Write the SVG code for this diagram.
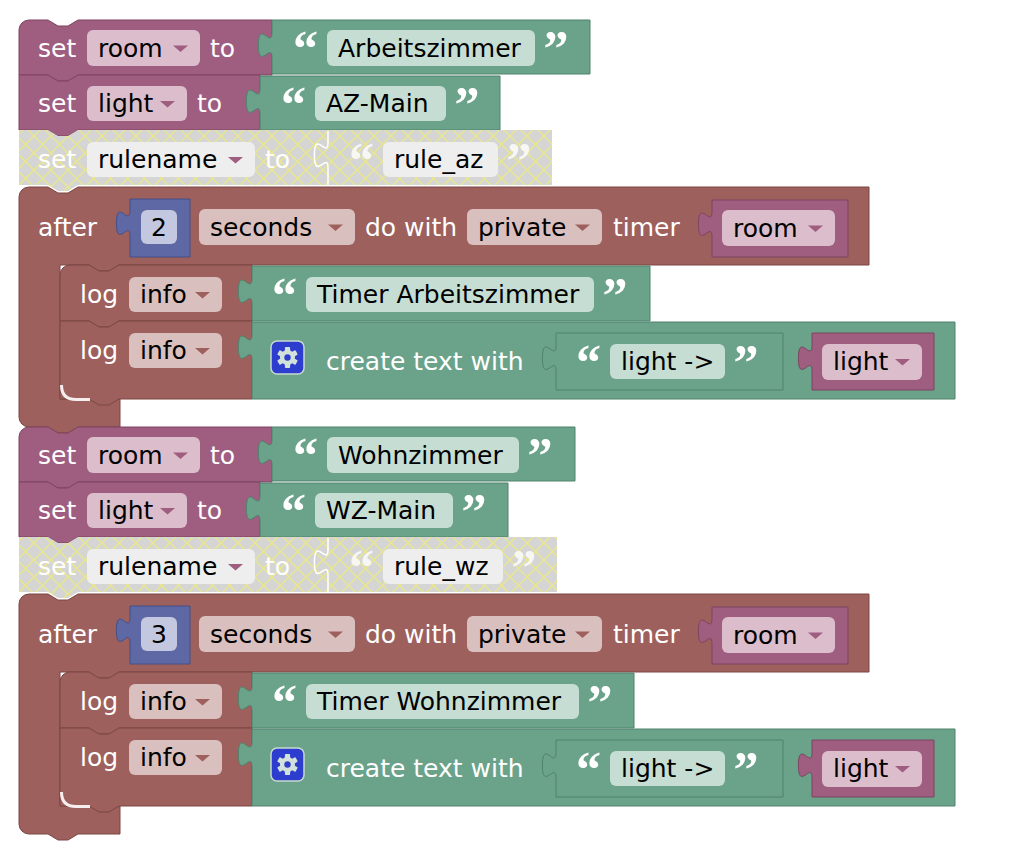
<svg xmlns="http://www.w3.org/2000/svg" xmlns:xlink="http://www.w3.org/1999/xlink" width="1014" height="862" viewBox="0 0 1014 862">
<style>
.t{font-family:"DejaVu Sans",sans-serif;font-size:25px;fill:#fff}
.k{fill:#000}
.q{font-family:"Liberation Serif",serif;font-weight:bold;font-size:50px;fill:#fff;text-anchor:middle}
.qd{opacity:.8}
.pu{fill:#9f5d80;stroke:#7c4562;stroke-width:1}
.gr{fill:#6aa38a;stroke:#4f826c;stroke-width:1}
.rd{fill:#9d605c;stroke:#7b4643;stroke-width:1}
.bl{fill:#5d68a5;stroke:#454f88;stroke-width:1}
.dis{fill:url(#dis)}
.pp{fill:#dcbdcc}
.gp{fill:#c5ddd2}
.rp{fill:#d9c0be}
.bp{fill:#c3c7df}
.dp{fill:#eeeeee}
.ap{fill:#9f5d80}
.ar{fill:#9d605c}
.wl{fill:none;stroke:#fff;stroke-width:1.5}
.hl{fill:none;stroke:#f6eeee;stroke-width:3}
</style>
<defs>
<pattern id="dis" patternUnits="userSpaceOnUse" width="17" height="17">
<rect width="17" height="17" fill="#d5d5d5"/>
<path d="M0 0L17 17M17 0L0 17" stroke="#e8e68e" stroke-width="1.5"/>
</pattern>
<g id="cog">
<rect x="-16.5" y="-16.5" width="33" height="33" rx="6" fill="#2d3ecf" stroke="#c6dad0" stroke-width="1.5"/>
<g fill="#d2e2da">
<circle r="7.5"/>
<rect x="-2.6" y="-10.5" width="5.2" height="21" rx="1"/>
<rect x="-2.6" y="-10.5" width="5.2" height="21" rx="1" transform="rotate(60)"/>
<rect x="-2.6" y="-10.5" width="5.2" height="21" rx="1" transform="rotate(120)"/>
</g>
<circle r="3.2" fill="#2d3ecf"/>
</g>
</defs>
<rect width="1014" height="862" fill="#fff"/>

<!-- ===== group 1 ===== -->
<g id="stack-1">
<g id="set-room-1">
<path class="pu" d="M19,30 A10,10 0 0 1 29,20 H48 l10,6 h10 l10,-6 H272 V75 H78 l-10,6 h-10 l-10,-6 H19 Z"/>
<text class="t" x="38" y="56.5">set</text>
<rect class="pp" x="87" y="30" width="113" height="36" rx="6"/>
<text class="t k" x="98" y="56.5">room</text>
<path class="ap" d="M173,45.5 h15 l-7.5,6.5 z"/>
<text class="t" x="210" y="56.5">to</text>
</g>
<g id="text-arbeitszimmer">
<path class="gr" d="M272,20 H590 V74 H272 V58 c0,-17 -13.6,13.6 -13.6,-12.75 s13.6,4.25 13.6,-12.75 Z"/>
<text class="q" x="305.5" y="65">“</text>
<rect class="gp" x="327" y="30" width="208" height="36" rx="6"/>
<text class="t k" x="338" y="56.5">Arbeitszimmer</text>
<text class="q" x="556" y="65">”</text>
</g>

<g id="set-light-1">
<path class="pu" d="M19,75 H48 l10,6 h10 l10,-6 H260 V130 H78 l-10,6 h-10 l-10,-6 H19 Z"/>
<text class="t" x="38" y="112">set</text>
<rect class="pp" x="87" y="86" width="100" height="35" rx="6"/>
<text class="t k" x="98" y="112">light</text>
<path class="ap" d="M160,101 h15 l-7.5,6.5 z"/>
<text class="t" x="197" y="112">to</text>
</g>
<g id="text-az-main">
<path class="gr" d="M260,76 H500 V130 H260 V114 c0,-17 -13.6,13.6 -13.6,-12.75 s13.6,4.25 13.6,-12.75 Z"/>
<text class="q" x="293.5" y="120.5">“</text>
<rect class="gp" x="315" y="86" width="131" height="35" rx="6"/>
<text class="t k" x="326" y="112">AZ-Main</text>
<text class="q" x="467" y="120.5">”</text>
</g>

<g id="set-rulename-1">
<path class="dis" d="M19,130 H48 l10,6 h10 l10,-6 H552 V185 H78 l-10,6 h-10 l-10,-6 H19 Z"/>
<text class="t" x="38" y="168">set</text>
<rect class="dp" x="87" y="142" width="168" height="35" rx="6"/>
<text class="t k" x="98" y="168">rulename</text>
<path class="ap" d="M228,157 h15 l-7.5,6.5 z"/>
<text class="t" x="265" y="168">to</text>
</g>
<g id="text-rule-az">
<path class="wl" d="M328,185 V168 c0,-17 -13.6,13.6 -13.6,-12.75 s13.6,4.25 13.6,-12.75 V131"/>
<text class="q qd" x="361.5" y="177">“</text>
<rect class="dp" x="383" y="142" width="115" height="35" rx="6"/>
<text class="t k" x="394" y="168">rule_az</text>
<text class="q qd" x="519" y="177">”</text>
</g>

<g id="after-1">
<path class="rd" d="M19,197 A10,10 0 0 1 29,187 H48 l10,6 h10 l10,-6 H869 V265 H119 l-10,6 h-10 l-10,-6 H60 V399 H120 V427 H78 l-10,6 h-10 l-10,-6 H29 A10,10 0 0 1 19,417 Z"/>
<text class="t" x="38" y="235.5">after</text>
<path class="bl" d="M130,199 H190 V257 H130 V236 c0,-17 -13.6,13.6 -13.6,-12.75 s13.6,4.25 13.6,-12.75 Z"/>
<rect class="bp" x="141" y="210" width="36" height="34" rx="6"/>
<text class="t k" x="159" y="235.5" text-anchor="middle">2</text>
<rect class="rp" x="199" y="209" width="156" height="36" rx="6"/>
<text class="t k" x="210" y="235.5">seconds</text>
<path class="ar" d="M328,224.5 h15 l-7.5,6.5 z"/>
<text class="t" x="365" y="235.5">do with</text>
<rect class="rp" x="467" y="209" width="135" height="36" rx="6"/>
<text class="t k" x="478" y="235.5">private</text>
<path class="ar" d="M575,224.5 h15 l-7.5,6.5 z"/>
<text class="t" x="613" y="235.5">timer</text>
</g>
<g id="var-room-1">
<path class="pu" d="M712,200 H848 V257 H712 V237 c0,-17 -13.6,13.6 -13.6,-12.75 s13.6,4.25 13.6,-12.75 Z"/>
<rect class="pp" x="722" y="210" width="113" height="36" rx="6"/>
<text class="t k" x="733" y="236.5">room</text>
<path class="ap" d="M808,225.5 h15 l-7.5,6.5 z"/>
</g>

<g id="log-1a">
<path class="rd" d="M60,275 A10,10 0 0 1 70,265 H89 l10,6 h10 l10,-6 H252 V321 H119 l-10,6 h-10 l-10,-6 H60 Z"/>
<text class="t" x="80" y="303">log</text>
<rect class="rp" x="129" y="277" width="93" height="35" rx="6"/>
<text class="t k" x="140" y="303">info</text>
<path class="ar" d="M195,292 h15 l-7.5,6.5 z"/>
</g>
<g id="text-timer-az">
<path class="gr" d="M252,266 H650 V321 H252 V304 c0,-17 -13.6,13.6 -13.6,-12.75 s13.6,4.25 13.6,-12.75 Z"/>
<text class="q" x="284.5" y="312">“</text>
<rect class="gp" x="306" y="277" width="288" height="35" rx="6"/>
<text class="t k" x="317" y="303">Timer Arbeitszimmer</text>
<text class="q" x="615" y="312">”</text>
</g>

<g id="log-1b">
<path class="rd" d="M60,321 H89 l10,6 h10 l10,-6 H252 V399 H119 l-10,6 h-10 l-10,-6 H60 Z"/>
<text class="t" x="80" y="358.5">log</text>
<rect class="rp" x="129" y="333" width="93" height="35" rx="6"/>
<text class="t k" x="140" y="358.5">info</text>
<path class="ar" d="M195,348 h15 l-7.5,6.5 z"/>
<path class="hl" d="M61.5,385 Q61.5,399.5 76,399.5 H90"/>
</g>
<g id="create-text-1">
<path class="gr" d="M252,322 H955 V399 H252 V360 c0,-17 -13.6,13.6 -13.6,-12.75 s13.6,4.25 13.6,-12.75 Z"/>
<use xlink:href="#cog" href="#cog" x="287.5" y="357.5"/>
<text class="t" x="326" y="370">create text with</text>
</g>
<g id="text-light-1">
<path class="gr" d="M556,333 H783 V390 H556 V371 c0,-17 -13.6,13.6 -13.6,-12.75 s13.6,4.25 13.6,-12.75 Z"/>
<text class="q" x="588.5" y="379">“</text>
<rect class="gp" x="610" y="344" width="115" height="35" rx="6"/>
<text class="t k" x="621" y="370">light -&gt;</text>
<text class="q" x="746" y="379">”</text>
</g>
<g id="var-light-1">
<path class="pu" d="M812,333 H934 V390 H812 V371 c0,-17 -13.6,13.6 -13.6,-12.75 s13.6,4.25 13.6,-12.75 Z"/>
<rect class="pp" x="822" y="344" width="100" height="36" rx="6"/>
<text class="t k" x="833" y="370">light</text>
<path class="ap" d="M895,359 h15 l-7.5,6.5 z"/>
</g>
</g>

<!-- ===== group 2 ===== -->
<g id="stack-2" transform="translate(0,407)">
<g id="set-room-2">
<path class="pu" d="M19,30 A10,10 0 0 1 29,20 H48 l10,6 h10 l10,-6 H272 V75 H78 l-10,6 h-10 l-10,-6 H19 Z"/>
<text class="t" x="38" y="56.5">set</text>
<rect class="pp" x="87" y="30" width="113" height="36" rx="6"/>
<text class="t k" x="98" y="56.5">room</text>
<path class="ap" d="M173,45.5 h15 l-7.5,6.5 z"/>
<text class="t" x="210" y="56.5">to</text>
</g>
<g id="text-wohnzimmer">
<path class="gr" d="M272,20 H575 V74 H272 V58 c0,-17 -13.6,13.6 -13.6,-12.75 s13.6,4.25 13.6,-12.75 Z"/>
<text class="q" x="305.5" y="65">“</text>
<rect class="gp" x="327" y="30" width="192" height="36" rx="6"/>
<text class="t k" x="338" y="56.5">Wohnzimmer</text>
<text class="q" x="540" y="65">”</text>
</g>

<g id="set-light-2">
<path class="pu" d="M19,75 H48 l10,6 h10 l10,-6 H260 V130 H78 l-10,6 h-10 l-10,-6 H19 Z"/>
<text class="t" x="38" y="112">set</text>
<rect class="pp" x="87" y="86" width="100" height="35" rx="6"/>
<text class="t k" x="98" y="112">light</text>
<path class="ap" d="M160,101 h15 l-7.5,6.5 z"/>
<text class="t" x="197" y="112">to</text>
</g>
<g id="text-wz-main">
<path class="gr" d="M260,76 H508 V130 H260 V114 c0,-17 -13.6,13.6 -13.6,-12.75 s13.6,4.25 13.6,-12.75 Z"/>
<text class="q" x="293.5" y="120.5">“</text>
<rect class="gp" x="315" y="86" width="138" height="35" rx="6"/>
<text class="t k" x="326" y="112">WZ-Main</text>
<text class="q" x="474" y="120.5">”</text>
</g>

<g id="set-rulename-2">
<path class="dis" d="M19,130 H48 l10,6 h10 l10,-6 H557 V185 H78 l-10,6 h-10 l-10,-6 H19 Z"/>
<text class="t" x="38" y="168">set</text>
<rect class="dp" x="87" y="142" width="168" height="35" rx="6"/>
<text class="t k" x="98" y="168">rulename</text>
<path class="ap" d="M228,157 h15 l-7.5,6.5 z"/>
<text class="t" x="265" y="168">to</text>
</g>
<g id="text-rule-wz">
<path class="wl" d="M328,185 V168 c0,-17 -13.6,13.6 -13.6,-12.75 s13.6,4.25 13.6,-12.75 V131"/>
<text class="q qd" x="361.5" y="177">“</text>
<rect class="dp" x="383" y="142" width="120" height="35" rx="6"/>
<text class="t k" x="394" y="168">rule_wz</text>
<text class="q qd" x="524" y="177">”</text>
</g>

<g id="after-2">
<path class="rd" d="M19,197 A10,10 0 0 1 29,187 H48 l10,6 h10 l10,-6 H869 V265 H119 l-10,6 h-10 l-10,-6 H60 V399 H120 V427 H78 l-10,6 h-10 l-10,-6 H29 A10,10 0 0 1 19,417 Z"/>
<text class="t" x="38" y="235.5">after</text>
<path class="bl" d="M130,199 H190 V257 H130 V236 c0,-17 -13.6,13.6 -13.6,-12.75 s13.6,4.25 13.6,-12.75 Z"/>
<rect class="bp" x="141" y="210" width="36" height="34" rx="6"/>
<text class="t k" x="159" y="235.5" text-anchor="middle">3</text>
<rect class="rp" x="199" y="209" width="156" height="36" rx="6"/>
<text class="t k" x="210" y="235.5">seconds</text>
<path class="ar" d="M328,224.5 h15 l-7.5,6.5 z"/>
<text class="t" x="365" y="235.5">do with</text>
<rect class="rp" x="467" y="209" width="135" height="36" rx="6"/>
<text class="t k" x="478" y="235.5">private</text>
<path class="ar" d="M575,224.5 h15 l-7.5,6.5 z"/>
<text class="t" x="613" y="235.5">timer</text>
</g>
<g id="var-room-2">
<path class="pu" d="M712,200 H848 V257 H712 V237 c0,-17 -13.6,13.6 -13.6,-12.75 s13.6,4.25 13.6,-12.75 Z"/>
<rect class="pp" x="722" y="210" width="113" height="36" rx="6"/>
<text class="t k" x="733" y="236.5">room</text>
<path class="ap" d="M808,225.5 h15 l-7.5,6.5 z"/>
</g>

<g id="log-2a">
<path class="rd" d="M60,275 A10,10 0 0 1 70,265 H89 l10,6 h10 l10,-6 H252 V321 H119 l-10,6 h-10 l-10,-6 H60 Z"/>
<text class="t" x="80" y="303">log</text>
<rect class="rp" x="129" y="277" width="93" height="35" rx="6"/>
<text class="t k" x="140" y="303">info</text>
<path class="ar" d="M195,292 h15 l-7.5,6.5 z"/>
</g>
<g id="text-timer-wz">
<path class="gr" d="M252,266 H634 V321 H252 V304 c0,-17 -13.6,13.6 -13.6,-12.75 s13.6,4.25 13.6,-12.75 Z"/>
<text class="q" x="284.5" y="312">“</text>
<rect class="gp" x="306" y="277" width="273" height="35" rx="6"/>
<text class="t k" x="317" y="303">Timer Wohnzimmer</text>
<text class="q" x="600" y="312">”</text>
</g>

<g id="log-2b">
<path class="rd" d="M60,321 H89 l10,6 h10 l10,-6 H252 V399 H119 l-10,6 h-10 l-10,-6 H60 Z"/>
<text class="t" x="80" y="358.5">log</text>
<rect class="rp" x="129" y="333" width="93" height="35" rx="6"/>
<text class="t k" x="140" y="358.5">info</text>
<path class="ar" d="M195,348 h15 l-7.5,6.5 z"/>
<path class="hl" d="M61.5,385 Q61.5,399.5 76,399.5 H90"/>
</g>
<g id="create-text-2">
<path class="gr" d="M252,322 H955 V399 H252 V360 c0,-17 -13.6,13.6 -13.6,-12.75 s13.6,4.25 13.6,-12.75 Z"/>
<use xlink:href="#cog" href="#cog" x="287.5" y="357.5"/>
<text class="t" x="326" y="370">create text with</text>
</g>
<g id="text-light-2">
<path class="gr" d="M556,333 H783 V390 H556 V371 c0,-17 -13.6,13.6 -13.6,-12.75 s13.6,4.25 13.6,-12.75 Z"/>
<text class="q" x="588.5" y="379">“</text>
<rect class="gp" x="610" y="344" width="115" height="35" rx="6"/>
<text class="t k" x="621" y="370">light -&gt;</text>
<text class="q" x="746" y="379">”</text>
</g>
<g id="var-light-2">
<path class="pu" d="M812,333 H934 V390 H812 V371 c0,-17 -13.6,13.6 -13.6,-12.75 s13.6,4.25 13.6,-12.75 Z"/>
<rect class="pp" x="822" y="344" width="100" height="36" rx="6"/>
<text class="t k" x="833" y="370">light</text>
<path class="ap" d="M895,359 h15 l-7.5,6.5 z"/>
</g>
</g>
</svg>
